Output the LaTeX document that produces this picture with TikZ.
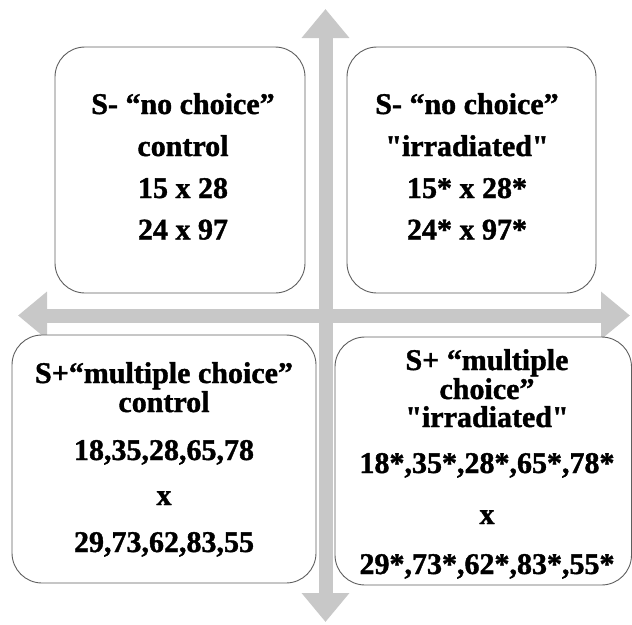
\documentclass[tikz,border=0pt]{standalone}
\usepackage{fontspec}
\setmainfont{Liberation Serif}[BoldFeatures={FakeBold=1.3}]
\usetikzlibrary{arrows.meta}
\definecolor{axisgray}{RGB}{200,200,200}
\definecolor{boxline}{RGB}{95,95,95}
\begin{document}
\begin{tikzpicture}[x=1pt,y=-1pt,
  axisline/.style={draw=axisgray, line width=14pt,
    {Triangle[width=46pt,length=29pt]}-{Triangle[width=46pt,length=29pt]}},
  quad/.style={draw=boxline, line width=0.9pt, fill=white, rounded corners=30pt,
    inner sep=0pt, outer sep=0pt},
  qtext/.style={anchor=base, inner sep=0pt, font=\bfseries\fontsize{30}{36}\selectfont}]
\useasboundingbox (0,0) rectangle (632,624);
% axes
\coordinate (top) at (325.5,9);
\coordinate (bottom) at (325.5,622);
\coordinate (left) at (18,315.5);
\coordinate (right) at (630,315.5);
\draw[axisline] (left) -- (right);
\draw[axisline] (bottom) -- (top);
% boxes
\node[quad, minimum width=250pt, minimum height=246pt] (tlbox) at (180,170) {};
\node[quad, minimum width=249pt, minimum height=246pt] (trbox) at (471.5,170) {};
\node[quad, minimum width=304pt, minimum height=248pt] (blbox) at (164,459) {};
\node[quad, minimum width=296.5pt, minimum height=248pt] (brbox) at (483.25,461) {};
% texts
\node[qtext] (tltext) at (183,114) {\begin{tabular}[t]{@{}c@{}}S- “no choice”\\[6pt] control\\[6pt] 15 x 28\\[5.5pt] 24 x 97\end{tabular}};
\node[qtext] (trtext) at (467,114) {\begin{tabular}[t]{@{}c@{}}S- “no choice”\\[6pt] \textquotedbl irradiated\textquotedbl\\[6pt] 15* x 28*\\[5.5pt] 24* x 97*\end{tabular}};
\node[qtext] (bltext) at (164,383) {\begin{tabular}[t]{@{}c@{}}S+“multiple choice”\\[-7pt] control\\[12pt] 18,35,28,65,78\\[9pt] x\\[11pt] 29,73,62,83,55\end{tabular}};
\node[qtext] (brtext) at (487,370) {\begin{tabular}[t]{@{}c@{}}S+ “multiple\\[-7pt] choice”\\[-8pt] \textquotedbl irradiated\textquotedbl\\[10pt] 18*,35*,28*,65*,78*\\[15pt] x\\[14pt] 29*,73*,62*,83*,55*\end{tabular}};
\end{tikzpicture}
\end{document}
